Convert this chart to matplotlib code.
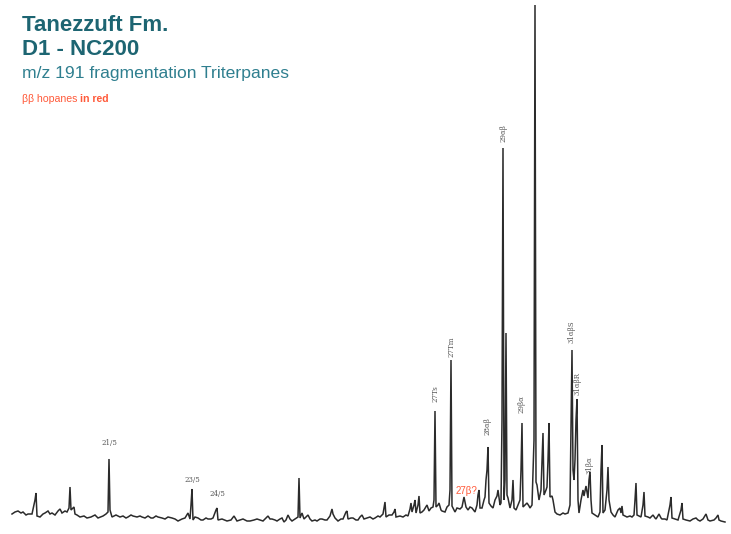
import matplotlib
matplotlib.use('Agg')
import matplotlib.pyplot as plt
import numpy as np

# m/z 191 trace, digitised as (retention position, height in px from top)
trace = [
    (12, 514), (15, 512), (18, 511), (21, 513), (23, 512), (26, 515), (28, 514),
    (32, 514), (34, 505), (35, 500), (36, 493), (37, 516), (40, 517), (43, 514),
    (45, 513), (48, 511), (50, 514), (52, 513), (55, 515), (58, 511), (60, 509),
    (62, 513), (65, 511), (67, 512), (69, 508), (70, 487), (71, 510), (72, 509),
    (74, 507), (75, 514), (77, 515), (80, 517), (84, 516), (87, 518), (91, 517),
    (95, 515), (98, 518), (103, 516), (106, 514), (108, 512), (109, 459),
    (110, 510), (112, 517), (116, 515), (120, 517), (123, 516), (126, 518),
    (128, 517), (131, 515), (133, 516), (137, 517), (140, 516), (142, 517),
    (145, 518), (148, 516), (151, 518), (153, 518), (156, 516), (158, 517),
    (162, 518), (165, 519), (168, 517), (172, 518), (175, 519), (178, 521),
    (182, 519), (185, 518), (188, 513), (190, 519), (191, 505), (192, 489),
    (193, 520), (195, 517), (198, 518), (201, 520), (203, 520), (206, 518),
    (208, 519), (211, 519), (213, 518), (216, 510), (217, 508), (218, 520),
    (222, 519), (227, 521), (231, 520), (234, 516), (237, 521), (240, 520),
    (243, 519), (247, 521), (250, 521), (254, 520), (257, 519), (260, 520),
    (263, 521), (266, 518), (268, 516), (270, 519), (272, 519), (275, 520),
    (277, 521), (280, 519), (282, 518), (284, 522), (286, 520), (288, 515),
    (290, 519), (292, 521), (295, 519), (298, 517), (299, 478), (300, 518),
    (302, 513), (304, 519), (306, 517), (308, 515), (310, 519), (312, 521),
    (315, 520), (317, 521), (320, 519), (322, 519), (325, 520), (327, 520),
    (330, 516), (332, 509), (333, 514), (335, 518), (338, 521), (341, 519),
    (343, 519), (346, 512), (347, 511), (348, 519), (351, 518), (353, 518),
    (356, 520), (358, 520), (360, 517), (362, 515), (364, 519), (367, 518),
    (370, 517), (373, 519), (375, 518), (378, 516), (380, 517), (383, 514),
    (385, 502), (386, 517), (389, 515), (392, 515), (394, 512), (395, 509),
    (396, 517), (400, 516), (403, 517), (406, 515), (408, 516), (410, 509),
    (411, 503), (412, 512), (414, 505), (415, 500), (416, 513), (418, 505),
    (419, 496), (420, 513), (422, 512), (424, 510), (427, 505), (429, 511),
    (431, 508), (433, 507), (434, 500), (435, 411), (436, 507), (438, 505),
    (439, 503), (441, 510), (442, 511), (445, 512), (447, 507), (449, 505),
    (450, 490), (451, 360), (452, 506), (454, 510), (455, 512), (457, 508),
    (460, 509), (462, 507), (464, 497), (466, 507), (468, 510), (470, 507),
    (472, 508), (475, 512), (477, 505), (478, 495), (479, 490), (480, 508),
    (482, 508), (484, 500), (485, 497), (486, 480), (487, 470), (488, 447),
    (489, 503), (491, 506), (493, 508), (495, 500), (497, 496), (498, 490),
    (500, 505), (501, 503), (502, 420), (503, 148), (504, 500), (505, 480),
    (506, 333), (507, 495), (508, 498), (510, 508), (512, 500), (513, 480),
    (514, 508), (516, 510), (518, 505), (520, 500), (521, 470), (522, 423),
    (523, 507), (525, 505), (527, 503), (529, 506), (530, 508), (532, 505),
    (534, 440), (535, 5), (536, 482), (537, 485), (539, 500), (540, 495),
    (541, 490), (542, 460), (543, 433), (544, 495), (546, 490), (547, 487),
    (548, 460), (549, 423), (550, 497), (552, 496), (553, 500), (555, 512),
    (557, 514), (560, 515), (563, 513), (565, 514), (568, 513), (570, 505),
    (571, 430), (572, 350), (573, 470), (574, 480), (575, 460), (576, 420),
    (577, 399), (578, 500), (579, 513), (581, 500), (582, 495), (583, 490),
    (584, 496), (586, 486), (588, 498), (589, 480), (590, 472), (591, 500),
    (592, 513), (595, 515), (598, 517), (600, 512), (601, 470), (602, 445),
    (603, 513), (605, 510), (607, 490), (608, 467), (609, 500), (611, 512),
    (613, 515), (615, 517), (618, 510), (620, 508), (621, 513), (622, 506),
    (623, 515), (627, 517), (630, 516), (632, 517), (634, 515), (635, 500),
    (636, 483), (637, 515), (639, 516), (641, 517), (643, 505), (644, 492),
    (645, 516), (648, 517), (650, 518), (653, 515), (655, 518), (656, 519),
    (659, 514), (661, 518), (662, 519), (665, 519), (667, 520), (670, 505),
    (671, 497), (672, 518), (675, 519), (678, 520), (681, 510), (682, 503),
    (683, 519), (686, 520), (690, 521), (693, 519), (696, 518), (698, 520),
    (700, 521), (703, 519), (706, 514), (708, 520), (710, 521), (714, 520),
    (716, 518), (718, 515), (719, 520), (721, 521), (725, 522),
]
rt = np.array([p[0] for p in trace], dtype=float)
abundance = 525 - np.array([p[1] for p in trace], dtype=float)

# peak annotations
peak_names = ['21/5', '23/5', '24/5', '27Ts', '27Tm', '28αβ', '29αβ', '29βα',
              '31αβS', '31αβR', '31βα']
peak_rt = [109, 192, 217, 435, 451, 488, 503, 522, 572, 577, 589]
peak_gap = [12, 5, 10, 9, 3, 12, 6, 10, 7, 4, 6]
peak_vertical = [False, False, False, True, True, True, True, True, True,
                 True, True]

title_teal = '#1d6572'
sub_teal = '#2f7f8f'
hop_red = '#ff5a3a'

fig = plt.figure(figsize=(7.31, 5.34), dpi=100)
ax = fig.add_axes([0, 0, 1, 1])
ax.set_xlim(0, 731)
ax.set_ylim(-9, 525)
ax.axis('off')

ax.plot(rt, abundance, color='#2b2b2b', lw=1.1, solid_joinstyle='miter')

for name, r, gap, vert in zip(peak_names, peak_rt, peak_gap, peak_vertical):
    top = abundance[np.abs(rt - r) <= 0.5].max()
    x = r + 1 if name == '31αβR' else r
    ax.text(x, top + gap, name, rotation=90 if vert else 0,
            ha='center', va='bottom', fontsize=5, color='#555555',
            family='DejaVu Serif')

# tentative 27 beta-beta hopane
ax.text(466, 525 - 491, '27β?', ha='center', va='center', fontsize=7,
        color=hop_red, family='Liberation Sans')

H = 534.0
fig.text(22 / 731, 1 - 31 / H, 'Tanezzuft Fm.', fontsize=16, fontweight='bold',
         color=title_teal, family='Liberation Sans', va='baseline')
fig.text(22 / 731, 1 - 55 / H, 'D1 - NC200', fontsize=16, fontweight='bold',
         color=title_teal, family='Liberation Sans', va='baseline')
fig.text(22 / 731, 1 - 78 / H, 'm/z 191 fragmentation Triterpanes',
         fontsize=12.6, color=sub_teal, family='Liberation Sans',
         va='baseline')
t1 = fig.text(22 / 731, 1 - 102 / H, 'ββ hopanes ', fontsize=7.6,
              color=hop_red, family='Liberation Sans', va='baseline')
fig.canvas.draw()
bb = t1.get_window_extent()
fig.text(bb.x1 / fig.bbox.width, 1 - 102 / H, 'in red', fontsize=7.6,
         fontweight='bold', color=hop_red, family='Liberation Sans',
         va='baseline')

fig.savefig('out.png', dpi=100)
